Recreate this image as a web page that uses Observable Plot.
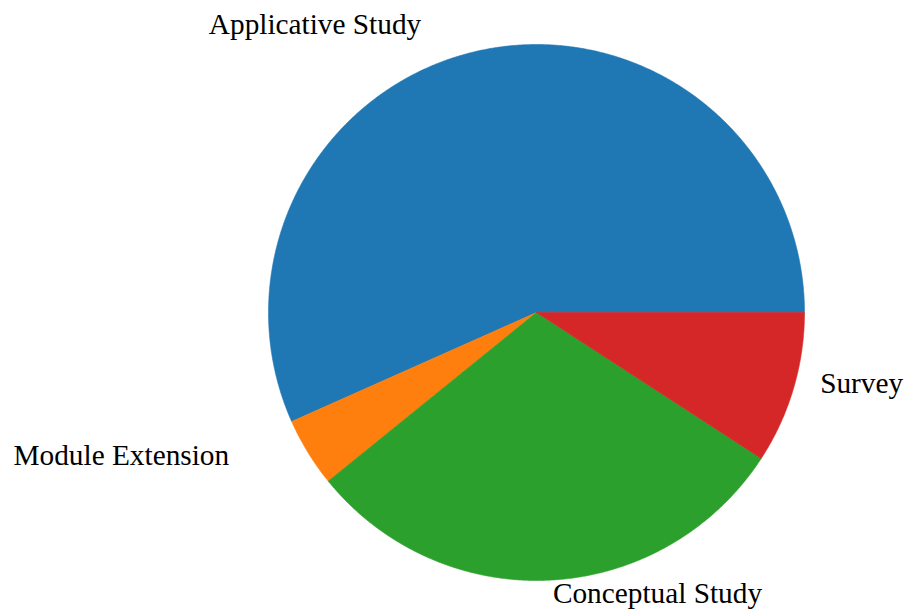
<!DOCTYPE html>
<html>
<head>
<meta charset="utf-8">
<script src="https://cdn.jsdelivr.net/npm/d3@7"></script>
<script src="https://cdn.jsdelivr.net/npm/@observablehq/plot@0.6"></script>
<style>
  html, body { margin: 0; padding: 0; background: #fff; overflow: hidden; }
  #chart svg { display: block; overflow: visible; }
  #chart svg text { font-family: "Liberation Serif", "Times New Roman", serif !important; }
</style>
</head>
<body>
<div id="chart"></div>
<script>
// Data
const categories = ["Applicative Study", "Module Extension", "Conceptual Study", "Survey"];
const counts = [68, 5, 36, 11];
const colors = ["#1f77b4", "#ff7f0e", "#2ca02c", "#d62728"];

// Build wedges (unit radius, counterclockwise from 3 o'clock)
const total = d3.sum(counts);
let acc = 0;
const slices = categories.map((name, i) => {
  const a0 = acc / total * 2 * Math.PI;
  acc += counts[i];
  const a1 = acc / total * 2 * Math.PI;
  const pts = [{x: 0, y: 0}];
  const n = Math.max(2, Math.ceil((a1 - a0) / (Math.PI / 720)));
  for (let k = 0; k <= n; k++) {
    const a = a0 + (a1 - a0) * k / n;
    pts.push({x: Math.cos(a), y: Math.sin(a)});
  }
  pts.push({x: 0, y: 0});
  const mid = (a0 + a1) / 2;
  return {name, color: colors[i], pts, mid};
});

const labelDist = 1.1;
const labels = slices.map(s => ({
  name: s.name,
  x: labelDist * Math.cos(s.mid),
  y: labelDist * Math.sin(s.mid),
  left: Math.cos(s.mid) < 0,
  upper: Math.sin(s.mid) > 0
}));

const R = 268; // pixels per unit radius
const textStyle = {fontSize: 29.3, fontFamily: "'Liberation Serif', 'Times New Roman', serif", fill: "black"};

const marks = [];
for (const s of slices) {
  marks.push(Plot.line(s.pts, {x: "x", y: "y", fill: s.color, stroke: s.color, strokeWidth: 0.6, curve: "linear"}));
}
const groups = [
  {left: true, upper: true, opts: {textAnchor: "end", lineAnchor: "middle", dx: -54}},
  {left: true, upper: false, opts: {textAnchor: "end", lineAnchor: "bottom", dx: -56, dy: -2}},
  {left: false, upper: true, opts: {textAnchor: "start", lineAnchor: "middle"}},
  {left: false, upper: false, opts: {textAnchor: "start", lineAnchor: "bottom", dx: 1, dy: -3.5}}
];
for (const g of groups) {
  const sub = labels.filter(l => l.left === g.left && l.upper === g.upper);
  if (sub.length) marks.push(Plot.text(sub, {x: "x", y: "y", text: "name", ...textStyle, ...g.opts}));
}

const chart = Plot.plot({
  width: 904,
  height: 614,
  margin: 0,
  x: {domain: [-536 / R, (904 - 536) / R], axis: null},
  y: {domain: [-(614 - 312) / R, 312 / R], axis: null},
  style: {background: "white", overflow: "visible", fontFamily: "'Liberation Serif', 'Times New Roman', serif"},
  marks
});
document.getElementById("chart").append(chart);
</script>
</body>
</html>
